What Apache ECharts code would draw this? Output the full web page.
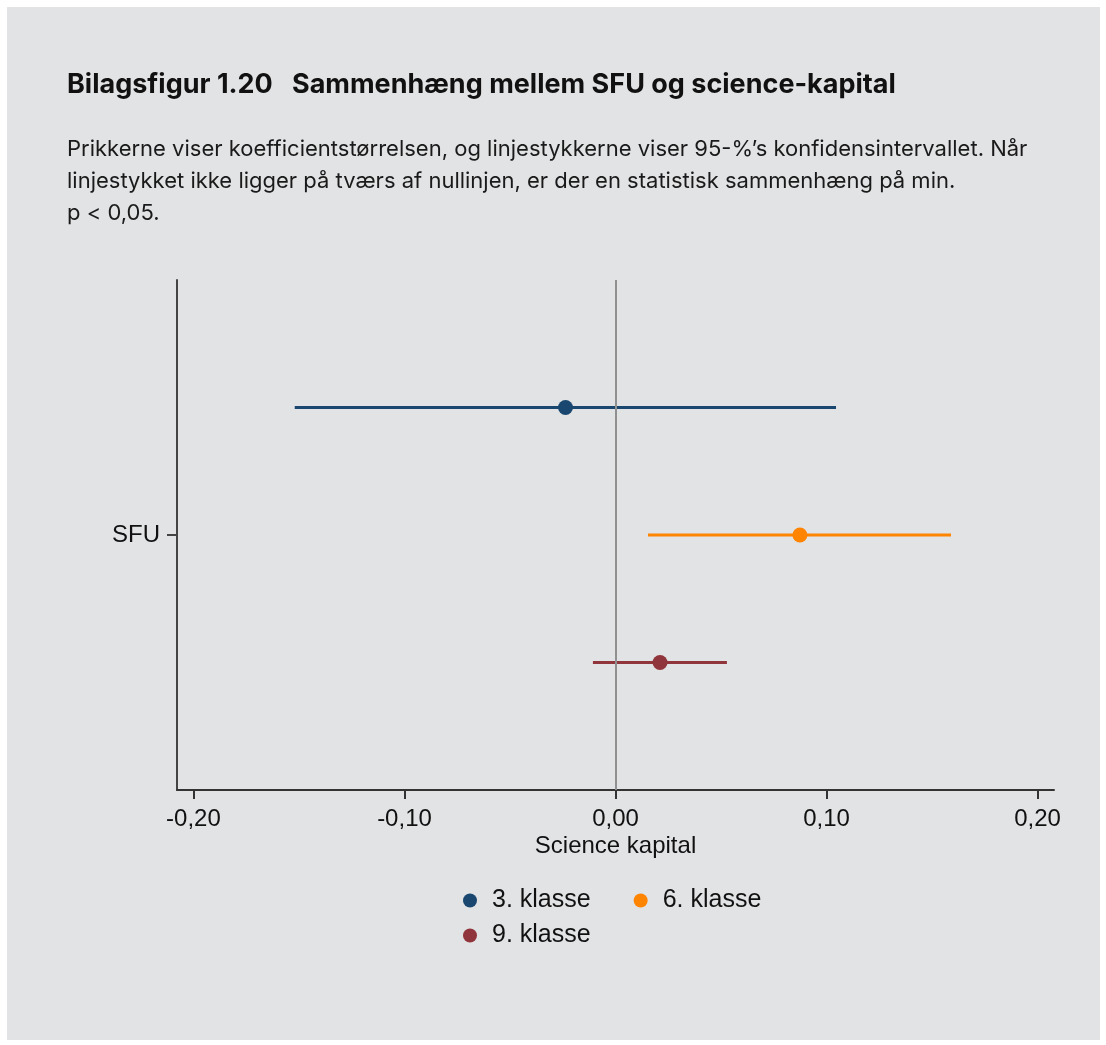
<!DOCTYPE html>
<html>
<head>
<meta charset="utf-8">
<script src="https://cdn.jsdelivr.net/npm/echarts@6/dist/echarts.min.js"></script>
<style>
html,body{margin:0;padding:0;background:#ffffff;}
#chart{width:1106px;height:1045px;}
</style>
</head>
<body>
<div id="chart"></div>
<script>
const groups = ['3. klasse', '6. klasse', '9. klasse'];
const estimates = [-0.0237, 0.0874, 0.0211];
const ciLow = [-0.152, 0.0154, -0.0107];
const ciHigh = [0.1045, 0.159, 0.0528];
const colors = ['#1a476f', '#ff8400', '#90353b'];
const xTicks = [-0.2, -0.1, 0, 0.1, 0.2];
const yCategory = 'SFU';

const titleText = 'Bilagsfigur 1.20   Sammenhæng mellem SFU og science-kapital';
const noteLines = [
  'Prikkerne viser koefficientstørrelsen, og linjestykkerne viser 95-%’s konfidensintervallet. Når',
  'linjestykket ikke ligger på tværs af nullinjen, er der en statistisk sammenhæng på min.',
  'p < 0,05.'
];

const chart = echarts.init(document.getElementById('chart'));
const n = groups.length;
const rowOf = i => n - i; // rows 3,2,1 on a 0..n+1 value axis

const series = [];
groups.forEach((g, i) => {
  series.push({
    name: g,
    type: 'line',
    data: [[ciLow[i], rowOf(i)], [ciHigh[i], rowOf(i)]],
    symbol: 'none',
    lineStyle: { color: colors[i], width: 3 },
    itemStyle: { color: colors[i] },
    z: 3,
    silent: true
  });
  series.push({
    name: g,
    type: 'scatter',
    data: [[estimates[i], rowOf(i)]],
    symbol: 'circle',
    symbolSize: 15,
    itemStyle: { color: colors[i], opacity: 1 },
    z: 4
  });
});
series.push({
  type: 'line',
  data: [],
  markLine: {
    silent: true,
    symbol: 'none',
    label: { show: false },
    lineStyle: { color: '#909090', width: 2, type: 'solid' },
    data: [{ xAxis: 0 }]
  },
  z: 2
});

const fmt = v => (v < 0 ? '-' : '') + Math.abs(v).toFixed(2).replace('.', ',');
const axisFont = '"Liberation Sans", Arial, sans-serif';
const legendText = { fontFamily: axisFont, fontSize: 25, color: '#111', padding: [0, 0, 0, 10] };

chart.setOption({
  backgroundColor: 'transparent',
  animation: false,
  graphic: [
    { type: 'rect', left: 7, top: 7, shape: { width: 1093, height: 1033 }, style: { fill: '#e2e3e5' }, z: -10 },
    {
      type: 'text', x: 67, y: 85,
      style: {
        text: titleText,
        font: 'bold 27px Inter, "Noto Sans", sans-serif',
        verticalAlign: 'middle',
        fill: '#111'
      }
    },
    {
      type: 'text', left: 67, top: 133,
      style: {
        text: noteLines.join('\n'),
        font: '22px Inter, "Noto Sans", sans-serif',
        lineHeight: 32,
        fill: '#1a1a1a'
      }
    }
  ],
  legend: [
    {
      data: [groups[0], groups[1]].map(name => ({ name, icon: 'circle' })),
      left: 458, top: 883,
      itemWidth: 14, itemHeight: 14, itemGap: 43,
      textStyle: legendText
    },
    {
      data: [groups[2]].map(name => ({ name, icon: 'circle' })),
      left: 458, top: 918,
      itemWidth: 14, itemHeight: 14,
      textStyle: legendText
    }
  ],
  grid: { left: 177, right: 52, top: 280, bottom: 255, containLabel: false },
  xAxis: {
    type: 'value',
    min: -0.2078,
    max: 0.2078,
    name: 'Science kapital',
    nameLocation: 'middle',
    nameGap: 44,
    nameTextStyle: { fontFamily: axisFont, fontSize: 24, color: '#111' },
    axisLine: { show: true, onZero: false, lineStyle: { color: '#333', width: 2 } },
    axisTick: { show: true, customValues: xTicks, length: 9, lineStyle: { color: '#333', width: 2 } },
    axisLabel: {
      customValues: xTicks,
      formatter: v => fmt(v),
      margin: 17,
      fontFamily: axisFont, fontSize: 24, color: '#111'
    },
    splitLine: { show: false }
  },
  yAxis: {
    type: 'value',
    min: 0,
    max: n + 1,
    axisLine: { show: true, onZero: false, lineStyle: { color: '#444', width: 2 } },
    axisTick: { show: true, customValues: [(n + 1) / 2], length: 10, lineStyle: { color: '#444', width: 2 } },
    axisLabel: {
      customValues: [(n + 1) / 2],
      formatter: () => yCategory,
      margin: 17,
      fontFamily: axisFont, fontSize: 24, color: '#111'
    },
    splitLine: { show: false }
  },
  series
});
</script>
</body>
</html>
